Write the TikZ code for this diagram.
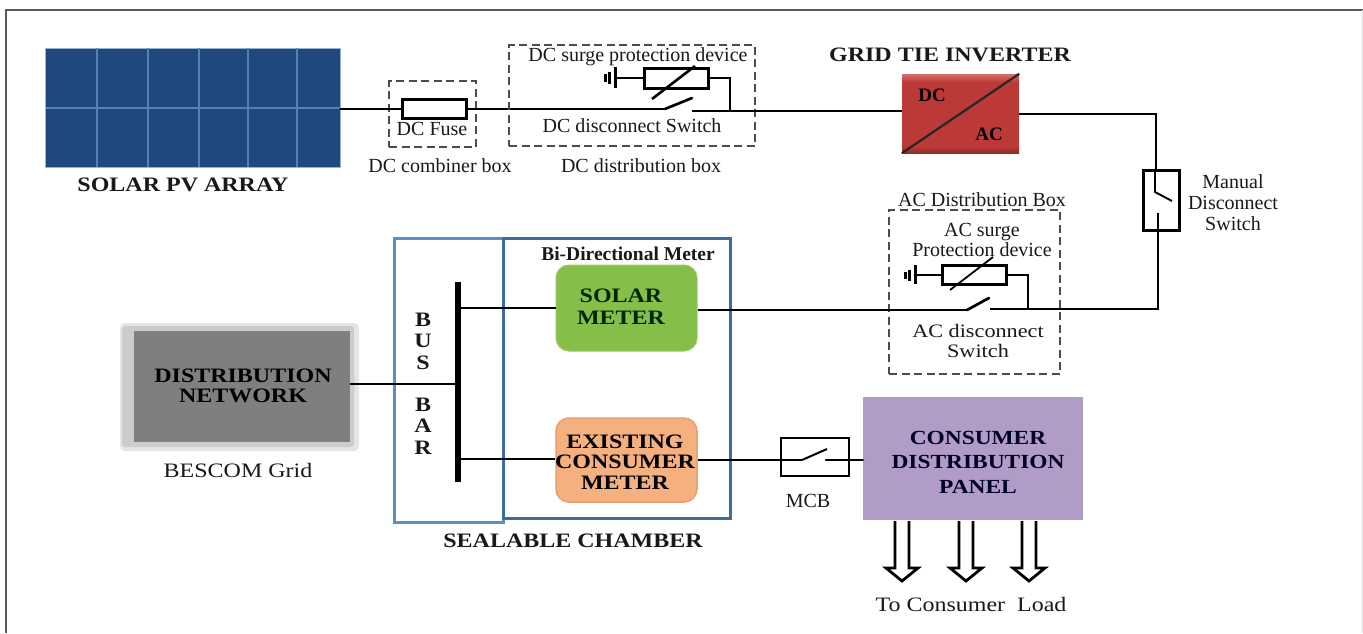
\documentclass[tikz,border=0pt]{standalone}
\usepackage{fontspec}
\setmainfont{Liberation Serif}
\newfontfamily\wideb[FakeStretch=1.17]{Liberation Serif}
\definecolor{pvblue}{HTML}{1F497D}
\definecolor{pvline}{HTML}{4F81BD}
\definecolor{boxblueA}{HTML}{5F8FC2}
\definecolor{boxblueB}{HTML}{3F6C98}
\definecolor{meterG}{HTML}{86BE4A}
\definecolor{meterO}{HTML}{F5B080}
\definecolor{meterOb}{HTML}{E8A06A}
\definecolor{panelP}{HTML}{B09CC6}
\definecolor{invR}{HTML}{CB3F3C}
\definecolor{netG}{HTML}{7F7F7F}
\tikzset{
  wire/.style={line width=2.7pt,line cap=round,line join=miter,black},
  dbox/.style={draw=black!70,line width=1.5pt,dash pattern=on 8pt off 4.5pt},
  lab/.style={font=\fontsize{20}{20}\selectfont,align=center,inner sep=0pt,text=black!90},
  blab/.style={font=\wideb\fontsize{20.5}{21}\bfseries\selectfont,align=center,inner sep=0pt,text=black!90},
  comp/.style={draw=black,line width=3pt,fill=white,inner sep=0pt},
  block/.style={inner sep=0pt,align=center,font=\wideb\fontsize{20.5}{20.5}\bfseries\selectfont},
  loadarrow/.style={draw=black,line width=2.8pt,fill=white,line join=miter},
}
\newcommand{\loadarrowat}[1]{%
  \draw[loadarrow] ([xshift=-7pt]#1) -- ([xshift=-7pt,yshift=-47pt]#1) -- ([xshift=-16pt,yshift=-47pt]#1)
    -- ([yshift=-60pt]#1) -- ([xshift=16pt,yshift=-47pt]#1) -- ([xshift=7pt,yshift=-47pt]#1) -- ([xshift=7pt]#1);}
\begin{document}
\begin{tikzpicture}[x=1pt,y=-1pt]
\useasboundingbox (0,0) rectangle (1363,633);
\fill[white] (0,0) rectangle (1363,633);
% outer frame
\draw[black!65,line width=2pt] (6,633) -- (6,10) -- (1363,10);
\draw[black!12,line width=1pt] (1362,10) -- (1362,633);

% PV array
\node[fill=pvblue,draw=pvline!60,line width=.8pt,minimum width=295pt,minimum height=119pt,inner sep=0pt] (pv) at (192.5,107.5) {};
\foreach \gx in {97,148,199,248,297} \draw[pvline,line width=1.2pt] (\gx,48) -- (\gx,167);
\draw[pvline,line width=1.2pt] (46,108) -- (340,108);
\node[blab] (pvl) at (183,185) {SOLAR PV ARRAY};

% DC combiner
\node[dbox,minimum width=87pt,minimum height=66pt,inner sep=0pt] (combiner) at (432.5,114) {};
\coordinate (dcA) at (665,109);
\draw[wire] (pv.east |- dcA) -- (dcA);
\node[comp,minimum width=64pt,minimum height=19pt] (fuse) at (434,109) {};
\node[lab] (fusel) at (432,129) {DC Fuse};
\node[lab] (combl) at (440,166) {DC combiner box};

% DC distribution
\node[dbox,minimum width=246pt,minimum height=101pt,inner sep=0pt] (dcbox) at (632,95.5) {};
\node[lab] (dcspd) at (638,57) {DC surge protection device};
\node[lab] (dcsw) at (632,126) {DC disconnect Switch};
\node[lab] (dcdist) at (641,166) {DC distribution box};
\node[comp,minimum width=64pt,minimum height=20pt] (dcvar) at (676,78) {};
\coordinate (dcg) at (615,78);
\coordinate (dcB) at (692,98);
\coordinate (dcC) at (692,111);
\coordinate (dcJ) at (730,111);
\draw[wire] (dcA) -- (dcB);
\draw[wire] (dcg) -- (dcvar.west);
\draw[wire,line cap=butt] (dcvar.east) -- (730,78) -- (dcJ);
\draw[line width=2.6pt] (652,99) -- (695,66);
\draw[line width=3pt] (615,67) -- (615,88);
\draw[line width=2.4pt] (609.5,72) -- (609.5,84);
\draw[line width=2.4pt] (605.5,74) -- (605.5,82);

% Inverter
\node[minimum width=117pt,minimum height=79pt,inner sep=0pt,fill=invR!92!black] (inv) at (960.5,113.5) {};
\fill[top color=invR!75!white,bottom color=invR!92!black] (902,74) rectangle (1019,82);
\fill[top color=invR!92!black,bottom color=invR!70!black] (902,146) rectangle (1019,153);
\draw[line width=2.2pt,black!85] (inv.south west) -- (inv.north east);
\node[inner sep=0pt,font=\fontsize{19}{21}\bfseries\selectfont] (invdc) at (932,95) {DC};
\node[inner sep=0pt,font=\fontsize{19}{21}\bfseries\selectfont] (invac) at (989,134) {AC};
\node[blab] (invl) at (950,55) {GRID TIE INVERTER};
\draw[wire,line cap=butt] (dcC) -- (dcJ) -- (inv.west |- dcJ);

% Manual switch
\node[draw=black,line width=3pt,minimum width=36pt,minimum height=60pt,inner sep=0pt] (msw) at (1161,200) {};
\coordinate (mA) at (1155,192);
\coordinate (mB) at (1172,201);
\coordinate (mC) at (1158,213);
\coordinate (acJ) at (1158,309);
\draw[wire,line cap=butt] (inv.east |- 0,114) -- (1156,114) -- (1156,170);
\draw[wire] (1155,170) -- (mA);
\draw[line width=1.9pt] (mA) -- (mB);
\draw[wire,line cap=butt] (mC) -- (acJ) -- (990,309);
\node[lab,font=\fontsize{20}{21}\selectfont] (ml) at (1233,203) {Manual\\Disconnect\\Switch};

% AC distribution
\node[dbox,minimum width=171pt,minimum height=164pt,inner sep=0pt] (acbox) at (974.5,292) {};
\node[lab] (acd) at (982,200) {AC Distribution Box};
\node[lab,font=\fontsize{20}{20}\selectfont] (acs) at (982,240) {AC surge\\Protection device};
\node[lab,font=\wideb\fontsize{19}{20}\selectfont] (acw) at (978,341) {AC disconnect\\Switch};
\node[comp,minimum width=64pt,minimum height=19pt] (acvar) at (974,275) {};
\coordinate (acg) at (915,275);
\coordinate (acA) at (967,310);
\coordinate (acB) at (989,298);
\draw[wire] (acg) -- (acvar.west);
\draw[wire,line cap=butt] (acvar.east) -- (1028,275) -- (1028,309);
\draw[line width=1.8pt] (950,290) -- (993,257);
\draw[line width=3pt] (915,265) -- (915,284);
\draw[line width=2.4pt] (909.5,270) -- (909.5,281);
\draw[line width=2.4pt] (905.5,272) -- (905.5,279);

% Chamber
\node[draw=boxblueA,line width=3pt,minimum width=109pt,minimum height=284pt,inner sep=0pt] (busbox) at (448.5,380) {};
\node[draw=boxblueB,line width=3pt,minimum width=227pt,minimum height=280pt,inner sep=0pt] (meterbox) at (616.5,378) {};
\node[lab,font=\fontsize{19.5}{21}\bfseries\selectfont] (bidir) at (628,254) {Bi-Directional Meter};
\node[blab] (seal) at (573,541) {SEALABLE CHAMBER};
\node[blab,font=\wideb\fontsize{20.5}{21.5}\bfseries\selectfont] (busl) at (423,341) {B\\U\\S};
\node[blab,font=\wideb\fontsize{20.5}{21.5}\bfseries\selectfont] (barl) at (423,426) {B\\A\\R};

% Meters
\node[block,fill=meterG,draw=meterG!85!white,line width=1pt,rounded corners=13pt,minimum width=141pt,minimum height=86pt] (solar) at (626.5,308) {};
\node[block,font=\wideb\fontsize{20.5}{22}\bfseries\selectfont,text=black!85!green] (solarl) at (621,307) {SOLAR\\METER};
\node[block,fill=meterO,draw=meterOb,line width=1.5pt,rounded corners=13pt,minimum width=141pt,minimum height=84pt] (exist) at (626.5,460) {};

% Bus bar
\coordinate (busT) at (458,282);
\coordinate (busB) at (458,482);
\draw[line width=6pt] (busT) -- (busB);
\draw[wire,line cap=butt] (458,308) -- (solar.west |- 0,308);
\draw[wire,line cap=butt] (458,459) -- (exist.west |- 0,459);

% Grid
\fill[black!10,rounded corners=5pt] (120,323) rectangle (359,451);
\fill[black!20,rounded corners=3pt] (122,326) rectangle (354,447);
\node[fill=netG,inner sep=0pt,minimum width=216pt,minimum height=111pt] (net) at (242,386.5) {};
\node[block] (netl) at (243,386) {DISTRIBUTION\\NETWORK};
\node[lab,font=\wideb\fontsize{20.5}{21}\selectfont] (besc) at (238,470) {BESCOM Grid};
\draw[wire,line cap=butt] (net.east |- 0,384) -- (458,384);

% Solar meter to AC disconnect
\draw[wire,line cap=butt] (solar.east |- acA) -- (acA);
\draw[wire] (acA) -- (acB);

% MCB and panel
\node[draw=black,line width=2.8pt,minimum width=68pt,minimum height=38pt,inner sep=0pt] (mcb) at (815,457) {};
\node[lab] (mcbl) at (808,501) {MCB};
\node[fill=panelP,inner sep=0pt,minimum width=220pt,minimum height=123pt] (panel) at (973,458.5) {};
\coordinate (mcbA) at (802,460);
\coordinate (mcbB) at (827,449);
\coordinate (mcbC) at (826,460);
\draw[wire,line cap=butt] (exist.east |- mcbA) -- (mcbA);
\draw[line width=2pt] (mcbA) -- (mcbB);
\draw[wire] (mcbC) -- (panel.west |- mcbC);
\node[block] (existl) at (625,462) {EXISTING\\CONSUMER\\METER};
\node[block,font=\wideb\fontsize{20}{24.5}\bfseries\selectfont,text=black!85!blue] (panell) at (978,462) {CONSUMER\\DISTRIBUTION\\PANEL};

% Load arrows
\coordinate (la) at (902,521);
\coordinate (lb) at (966,521);
\coordinate (lc) at (1029,521);
\loadarrowat{la}
\loadarrowat{lb}
\loadarrowat{lc}
\node[lab,font=\wideb\fontsize{20.5}{21}\selectfont] (load) at (971,604) {To Consumer\ \ Load};
\end{tikzpicture}
\end{document}
